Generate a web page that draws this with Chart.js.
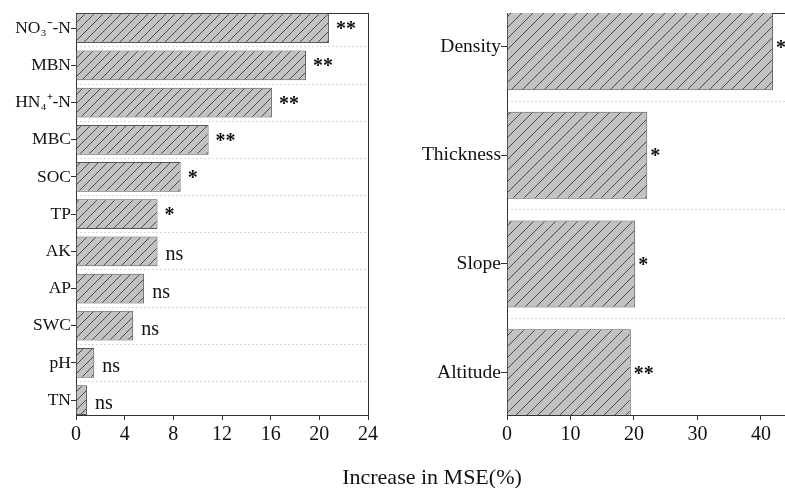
<!DOCTYPE html>
<html>
<head>
<meta charset="utf-8">
<script src="https://cdn.jsdelivr.net/npm/chart.js@4"></script>
<style>
  body { margin: 0; background: #fff; }
  #wrap { position: relative; width: 785px; height: 488px; overflow: hidden; }
  canvas { position: absolute; top: 0; }
  #left { left: 0; }
  #right { left: 392px; }
  #xtitle { position: absolute; left: 0; top: 466px; width: 864px; text-align: center;
            font: 22px "Liberation Serif", "Times New Roman", serif; color: #111; line-height: 22px; }
</style>
</head>
<body>
<div id="wrap">
  <canvas id="left" width="392" height="488"></canvas>
  <canvas id="right" width="393" height="488"></canvas>
  <div id="xtitle">Increase in MSE(%)</div>
</div>
<script>
const leftCats = ['NO₃⁻-N', 'MBN', 'HN₄⁺-N', 'MBC', 'SOC', 'TP', 'AK', 'AP', 'SWC', 'pH', 'TN'];
const leftValues = [20.8, 18.9, 16.1, 10.9, 8.6, 6.7, 6.7, 5.6, 4.7, 1.5, 0.9];
const leftSig = ['**', '**', '**', '**', '*', '*', 'ns', 'ns', 'ns', 'ns', 'ns'];
const leftTicks = [0, 4, 8, 12, 16, 20, 24];

const rightCats = ['Density', 'Thickness', 'Slope', 'Altitude'];
const rightValues = [41.9, 22.1, 20.2, 19.5];
const rightSig = ['*', '*', '*', '**'];
const rightTicks = [0, 10, 20, 30, 40];

Chart.defaults.font.family = '"Liberation Serif", "Times New Roman", serif';
Chart.defaults.color = '#111';

// grey fill with "/" hatching
function hatch(ctx, size) {
  const c = document.createElement('canvas');
  c.width = size;
  c.height = size;
  const g = c.getContext('2d');
  g.fillStyle = '#c2c2c2';
  g.fillRect(0, 0, size, size);
  g.strokeStyle = '#4a4a4a';
  g.lineWidth = 1;
  g.beginPath();
  g.moveTo(0, size); g.lineTo(size, 0);
  g.moveTo(-1, 1); g.lineTo(1, -1);
  g.moveTo(size - 1, size + 1); g.lineTo(size + 1, size - 1);
  g.stroke();
  return ctx.createPattern(c, 'repeat');
}

const sigLabels = {
  id: 'sigLabels',
  afterDatasetsDraw(chart, args, opts) {
    const ctx = chart.ctx;
    ctx.save();
    ctx.fillStyle = '#111';
    ctx.textBaseline = 'alphabetic';
    chart.getDatasetMeta(0).data.forEach((bar, i) => {
      const s = opts.labels[i];
      if (s === 'ns') {
        ctx.font = '20px "Liberation Serif", serif';
        ctx.fillText(s, bar.x + opts.gap + 1, bar.y + 9);
      } else {
        ctx.font = 'bold 20px "Liberation Serif", serif';
        ctx.fillText(s, bar.x + opts.gap, bar.y + 7);
      }
    });
    ctx.restore();
  }
};

function fixed(w, h) {
  return scale => {
    if (w !== undefined) scale.width = w;
    if (h !== undefined) scale.height = h;
  };
}
function setTicks(values) {
  return scale => { scale.ticks = values.map(v => ({ value: v })); };
}

function drawPanel(id, cats, values, sig, xTicks, s) {
  const ctx = document.getElementById(id).getContext('2d');
  const mids = cats.slice(1).map((_, i) => i + 0.5);
  new Chart(ctx, {
    type: 'bar',
    data: {
      datasets: [{
        data: values.map((v, i) => ({ x: v, y: i })),
        backgroundColor: hatch(ctx, s.hatch),
        borderColor: '#555',
        borderWidth: 1,
        barPercentage: 0.8,
        categoryPercentage: 1
      }]
    },
    options: {
      indexAxis: 'y',
      responsive: false,
      animation: false,
      layout: { padding: s.padding },
      plugins: {
        legend: { display: false },
        tooltip: { enabled: false },
        sigLabels: { labels: sig, gap: s.gap }
      },
      scales: {
        x: {
          type: 'linear', min: 0, max: s.xMax,
          afterBuildTicks: setTicks(xTicks),
          afterFit: fixed(undefined, 73),
          grid: { drawOnChartArea: false, tickLength: 5, tickColor: '#333' },
          border: { color: '#333' },
          ticks: { font: { size: 20 }, padding: 3, maxRotation: 0 }
        },
        top: {
          type: 'linear', position: 'top', min: 0, max: s.xMax,
          afterFit: fixed(undefined, 0),
          grid: { display: false },
          ticks: { display: false },
          border: { color: '#333' }
        },
        y: {
          type: 'linear', reverse: true, offset: false, min: s.yMin, max: s.yMax,
          afterBuildTicks: setTicks(cats.map((_, i) => i)),
          afterFit: fixed(s.yWidth),
          grid: { offset: false, drawOnChartArea: false, tickLength: s.tickLen, tickColor: '#333' },
          border: { color: '#333' },
          ticks: { font: { size: s.labelSize }, padding: 0, callback: v => cats[v] }
        },
        grid: {
          type: 'linear', position: 'right', reverse: true, offset: false, min: s.yMin, max: s.yMax,
          afterBuildTicks: setTicks(mids),
          afterFit: fixed(0),
          grid: { offset: false, color: '#d8d8d8', drawTicks: false },
          border: { display: s.rightBorder, color: '#333', dash: [2, 2] },
          ticks: { display: false }
        }
      }
    },
    plugins: [sigLabels]
  });
}

drawPanel('left', leftCats, leftValues, leftSig, leftTicks, {
  xMax: 24, yMin: -0.41, yMax: 10.4, yWidth: 76, tickLen: 5, gap: 7, hatch: 9, labelSize: 17.5,
  rightBorder: true, padding: { top: 13, right: 24, left: 0, bottom: 0 }
});
drawPanel('right', rightCats, rightValues, rightSig, rightTicks, {
  xMax: 43.8, yMin: -0.31, yMax: 3.39, yWidth: 115, tickLen: 6, gap: 3, hatch: 11, labelSize: 19.5,
  rightBorder: false, padding: { top: 13, right: 0, left: 0, bottom: 0 }
});
</script>
</body>
</html>
